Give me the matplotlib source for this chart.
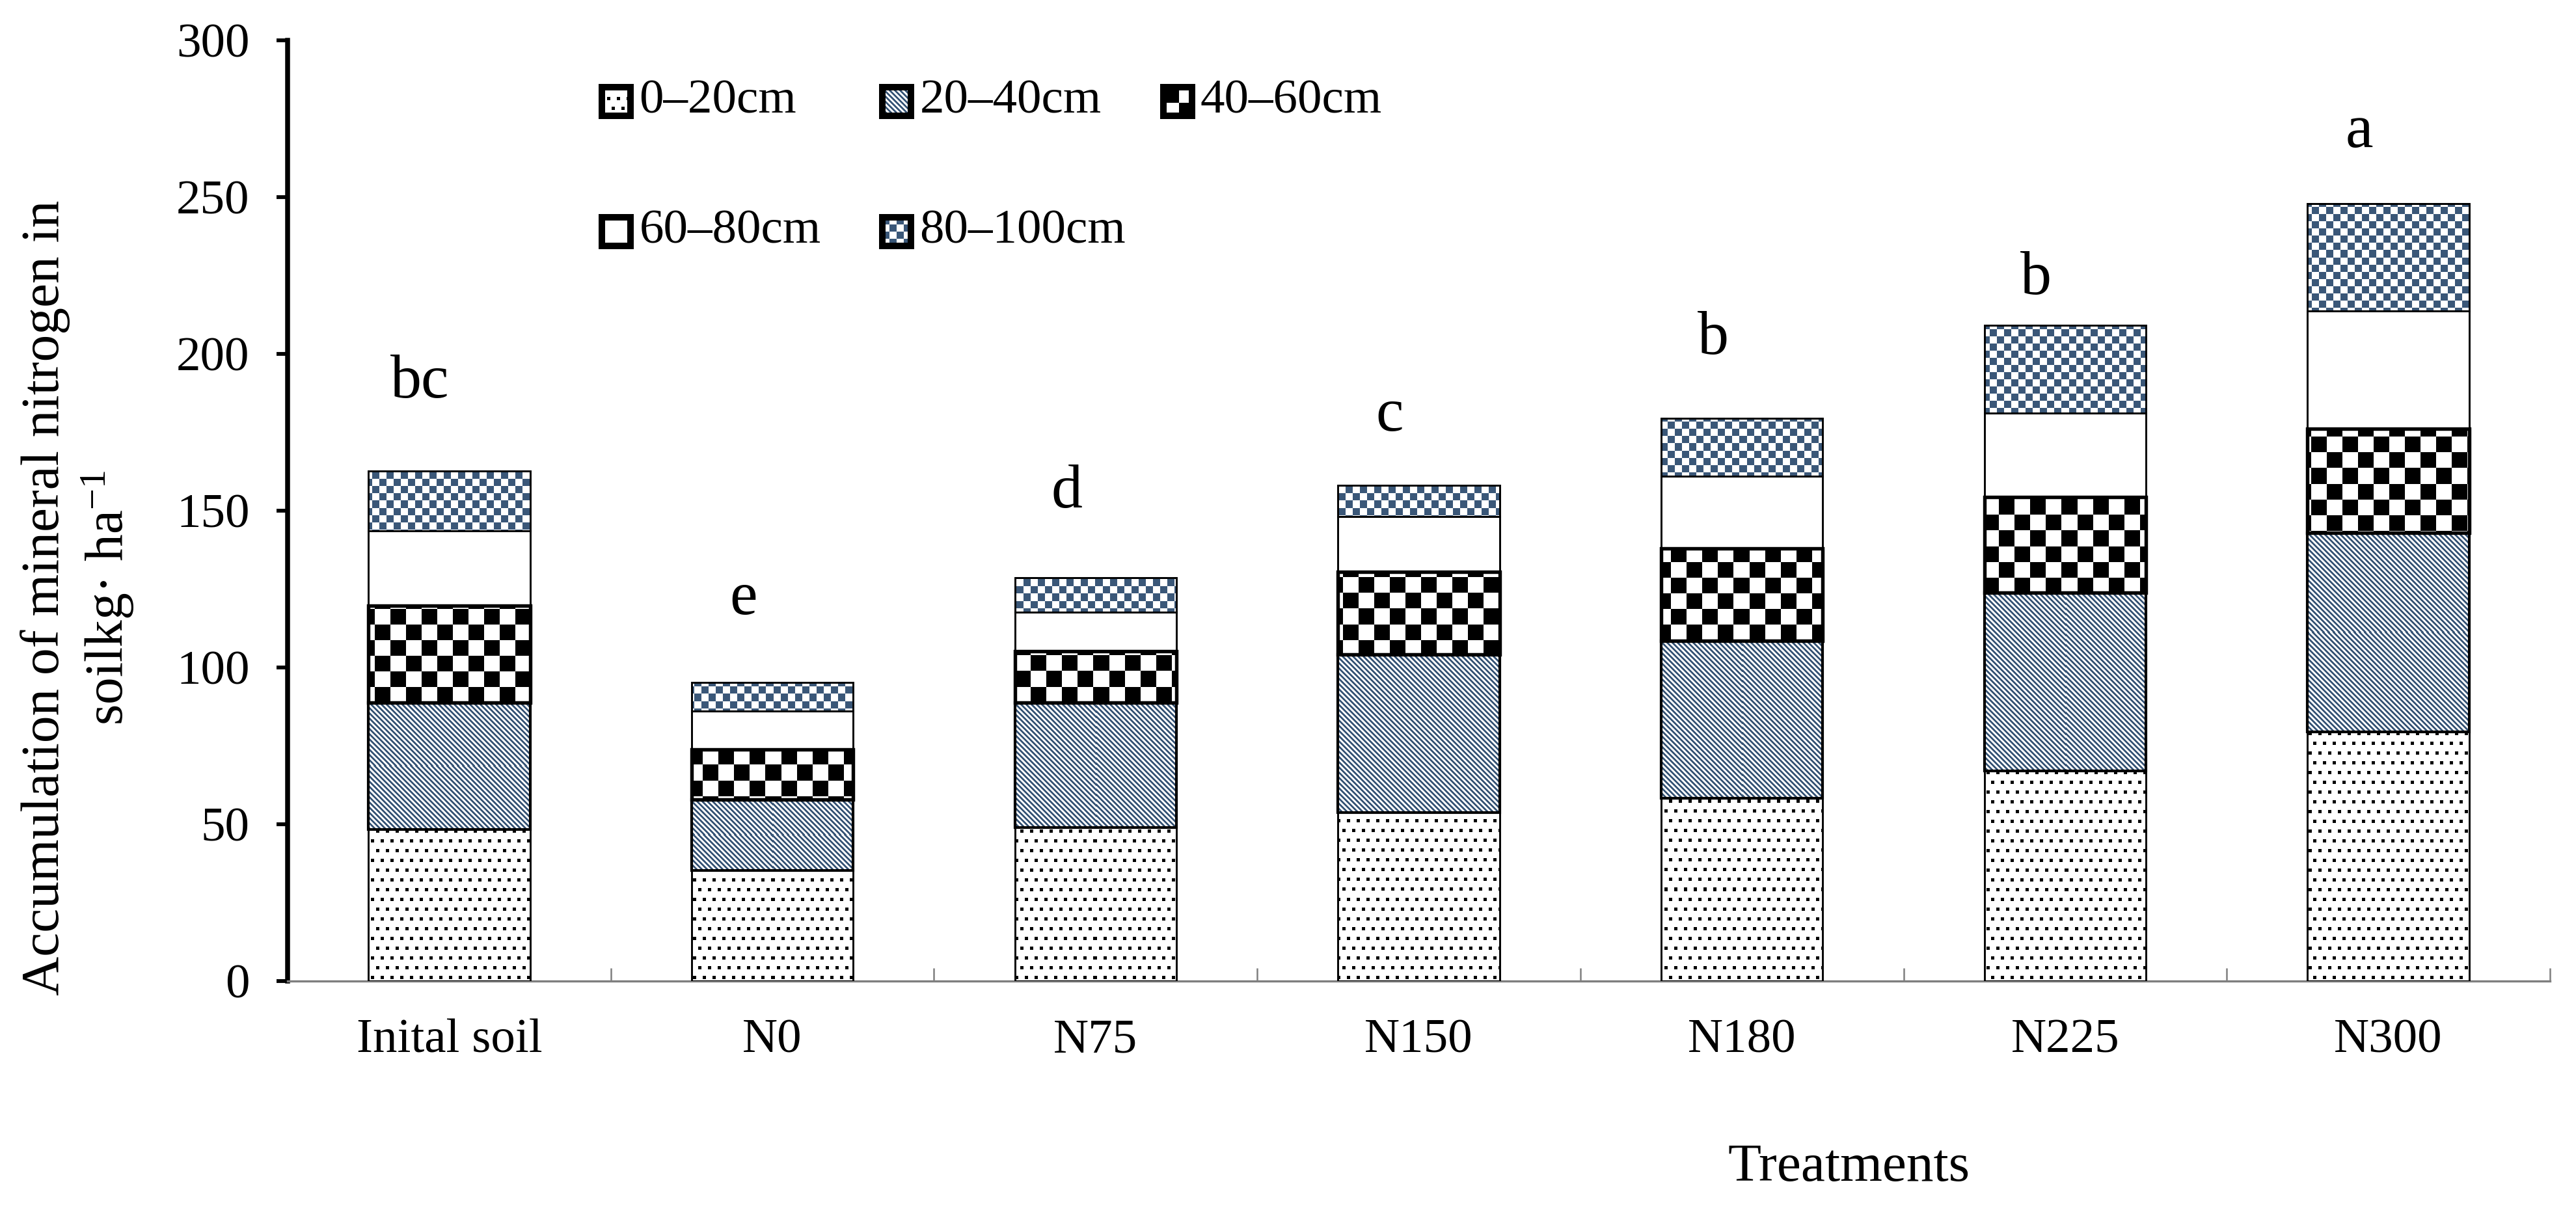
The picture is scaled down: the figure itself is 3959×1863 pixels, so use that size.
import numpy as np
import matplotlib.pyplot as plt

plt.rcParams['font.family'] = ['Liberation Serif', 'DejaVu Serif']
plt.rcParams['mathtext.fontset'] = 'custom'
plt.rcParams['mathtext.rm'] = 'Liberation Serif'
plt.rcParams['mathtext.it'] = 'Liberation Serif:italic'

# data (kg/ha per soil layer)
treatments = ['Inital soil', 'N0', 'N75', 'N150', 'N180', 'N225', 'N300']
layers = ['0–20cm', '20–40cm', '40–60cm', '60–80cm', '80–100cm']
layer_0_20 = [48.3, 35.2, 48.9, 53.8, 58.4, 67.0, 79.4]
layer_20_40 = [40.5, 22.7, 39.8, 50.3, 50.2, 56.8, 63.5]
layer_40_60 = [30.9, 16.0, 16.5, 26.4, 29.3, 30.5, 33.3]
layer_60_80 = [23.8, 12.1, 12.5, 17.6, 23.0, 26.9, 37.4]
layer_80_100 = [19.1, 9.3, 11.0, 10.0, 18.5, 28.0, 34.3]
letters = ['bc', 'e', 'd', 'c', 'b', 'b', 'a']
letter_y = [186, 117, 151, 175.5, 200, 219, 266]

layer_values = [layer_0_20, layer_20_40, layer_40_60, layer_60_80, layer_80_100]
kinds = ['dots', 'diag', 'checker', 'white', 'bluecheck']
edge_lw = [0.7, 1.0, 1.3, 0.7, 0.7]

W, H, DPI = 3959, 1863, 300
BLUE = np.array([58, 87, 120]) / 255.0


def texture(kind, x0, y0, w, h):
    # pixel pattern tiled on the figure grid, like the Excel fills
    yy, xx = np.mgrid[y0:y0 + h, x0:x0 + w]
    img = np.ones((h, w, 3))
    if kind == 'dots':
        m = ((xx % 15) < 5) & ((yy % 30) < 5)
        m |= (((xx + 7) % 15) < 5) & (((yy + 15) % 30) < 5)
        img[m] = 0
    elif kind == 'diag':
        m = ((yy - xx) % 8) < 4
        img[m] = BLUE
    elif kind == 'checker':
        m = ((xx // 24 + yy // 24) % 2) == 0
        img[m] = 0
    elif kind == 'bluecheck':
        m = ((xx // 11 + yy // 11) % 2) == 0
        img[m] = BLUE
    return img


fig = plt.figure(figsize=(W / DPI, H / DPI), dpi=DPI)
ax = fig.add_axes([442 / W, 1 - 1508 / H, 3477 / W, 1446 / H])
ax.set_xlim(-0.5, 6.5)
ax.set_ylim(0, 300)

x = np.arange(len(treatments))
bottom = np.zeros(len(treatments))
fig_h = fig.bbox.height
for vals, kind, lw in zip(layer_values, kinds, edge_lw):
    bars = ax.bar(x, vals, width=0.5, bottom=bottom, facecolor='none',
                  edgecolor='black', linewidth=lw, zorder=3)
    for b in bars:
        bx0, by0 = b.get_x(), b.get_y()
        bx1, by1 = bx0 + b.get_width(), by0 + b.get_height()
        (px0, py0), (px1, py1) = ax.transData.transform([(bx0, by0), (bx1, by1)])
        c0, c1 = int(round(px0)), int(round(px1))
        r0, r1 = int(round(fig_h - py1)), int(round(fig_h - py0))
        if r1 - r0 < 1:
            continue
        ax.imshow(texture(kind, c0, r0, c1 - c0, r1 - r0),
                  extent=(bx0, bx1, by0, by1), aspect='auto',
                  interpolation='nearest', zorder=2)
    bottom += np.array(vals)

# significance letters
for i, (lab, yv) in enumerate(zip(letters, letter_y)):
    ax.text(i - 0.09, yv, lab, ha='center', va='baseline', fontsize=23)

# axes styling
for s in ['top', 'right']:
    ax.spines[s].set_visible(False)
ax.spines['left'].set_linewidth(1.8)
ax.spines['bottom'].set_linewidth(0.8)
ax.spines['bottom'].set_color('#7f7f7f')

ax.set_xticks(x, treatments)
ax.set_xticks(np.arange(0.5, 7, 1), minor=True)
ax.tick_params(axis='x', which='major', length=0, pad=14, labelsize=18)
ax.tick_params(axis='x', which='minor', direction='in', length=4.8,
               width=0.6, color='#7f7f7f')
ax.set_yticks(np.arange(0, 301, 50))
ax.tick_params(axis='y', direction='out', length=4, width=1.4, pad=10,
               labelsize=18)

ax.text(0.69, -0.212, 'Treatments', transform=ax.transAxes, ha='center',
        va='baseline', fontsize=20)
fig.text(120 / W, 0.507, 'Accumulation of mineral nitrogen in\nsoilkg· ha$^{-1}$',
         rotation=90, ha='center', va='center', multialignment='center',
         fontsize=20)

# legend drawn by hand: 3 per row
for k, (label, kind) in enumerate(zip(layers, kinds)):
    r, c = divmod(k, 3)
    lx = 0.139 + c * 0.124
    ly = 0.935 - r * 0.138
    lax = ax.inset_axes([lx, ly - 0.0152, 0.01265, 0.0304])
    lax.imshow(texture(kind, 0, 0, 44, 44), aspect='auto',
               interpolation='nearest')
    lax.set_xticks([])
    lax.set_yticks([])
    for s in lax.spines.values():
        s.set_linewidth(2.4)
    ax.text(lx + 0.0164, ly, label, transform=ax.transAxes, va='center',
            fontsize=18)

fig.savefig('out.png', dpi=DPI)
